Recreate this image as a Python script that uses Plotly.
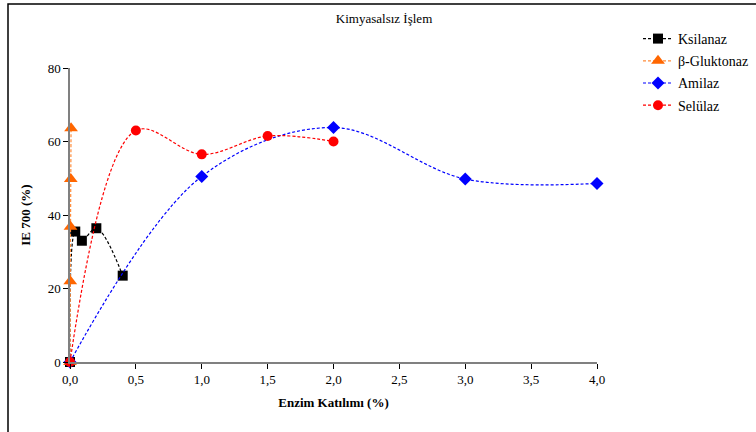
import plotly.graph_objects as go

# Enzyme dosage (%) and IE 700 (%) per enzyme
ksilanaz_x = [0.0, 0.04, 0.09, 0.2, 0.4]
ksilanaz_y = [0.0, 35.5, 33.0, 36.4, 23.5]

gluktonaz_x = [0.0, 0.002, 0.004, 0.006, 0.008]
gluktonaz_y = [0.0, 22.0, 36.8, 49.8, 63.6]

amilaz_x = [0.0, 1.0, 2.0, 3.0, 4.0]
amilaz_y = [0.0, 50.5, 63.8, 49.8, 48.6]

selulaz_x = [0.0, 0.5, 1.0, 1.5, 2.0]
selulaz_y = [0.0, 63.0, 56.5, 61.5, 60.0]

x_ticks = [0.0, 0.5, 1.0, 1.5, 2.0, 2.5, 3.0, 3.5, 4.0]
y_ticks = [0, 20, 40, 60, 80]

SERIF = "Liberation Serif, Times New Roman, serif"

series = [
    ("Ksilanaz", ksilanaz_x, ksilanaz_y, "#000000", "#000000", "square", 10),
    ("β-Gluktonaz", gluktonaz_x, gluktonaz_y, "#FF8C3A", "#FF6600", "triangle-up", 12),
    ("Amilaz", amilaz_x, amilaz_y, "#0000FF", "#0000FF", "diamond", 10),
    ("Selülaz", selulaz_x, selulaz_y, "#FF0000", "#FF0000", "circle", 10),
]

fig = go.Figure()
for i, (name, xs, ys, lc, mc, sym, size) in enumerate(series):
    fig.add_trace(go.Scatter(
        x=xs, y=ys, name=name, mode="lines+markers",
        legendgroup=f"g{i}",
        line=dict(color=lc, width=1.2, dash="3px,2px", shape="spline", smoothing=1.0),
        marker=dict(symbol=sym, size=size, color=mc, line=dict(width=0)),
        cliponaxis=False,
    ))

axis_common = dict(
    showline=True, linecolor="#808080", linewidth=1.5,
    showgrid=False, zeroline=False,
    ticks="outside", ticklen=5, tickcolor="#000000", tickwidth=1,
    tickfont=dict(family=SERIF, size=13, color="#000000"),
)

fig.update_layout(
    width=756, height=432,
    margin=dict(l=70, r=159, t=68, b=70, autoexpand=False),
    paper_bgcolor="white", plot_bgcolor="white",
    separators=",.",
    title=dict(text="Kimyasalsız İşlem", x=0.508, xanchor="center",
               y=1 - 18 / 432, yanchor="middle",
               font=dict(family=SERIF, size=13, color="#000000")),
    xaxis=dict(range=[0, 4], tickvals=x_ticks, tickformat=".1f",
               title=dict(text="<b>Enzim Katılımı (%)</b>", standoff=12,
                          font=dict(family=SERIF, size=13, color="#000000")),
               **axis_common),
    yaxis=dict(range=[0, 80], tickvals=y_ticks,
               title=dict(text="<b>IE 700 (%)</b>", standoff=14,
                          font=dict(family=SERIF, size=13, color="#000000")),
               **axis_common),
    legend=dict(x=(638 - 70) / 527, xanchor="left", y=(362 - 23) / 294, yanchor="top",
                traceorder="grouped", tracegroupgap=1,
                font=dict(family=SERIF, size=14, color="#000000"),
                bgcolor="rgba(0,0,0,0)"),
    showlegend=True,
)

# Outer chart frame
fig.add_shape(type="rect", xref="paper", yref="paper",
              x0=(8 - 70) / 527, x1=(770 - 70) / 527,
              y0=(362 - 445) / 294, y1=(362 - 4) / 294,
              line=dict(color="#000000", width=1.5), fillcolor="rgba(0,0,0,0)",
              layer="below")

fig.write_html("out.html")
